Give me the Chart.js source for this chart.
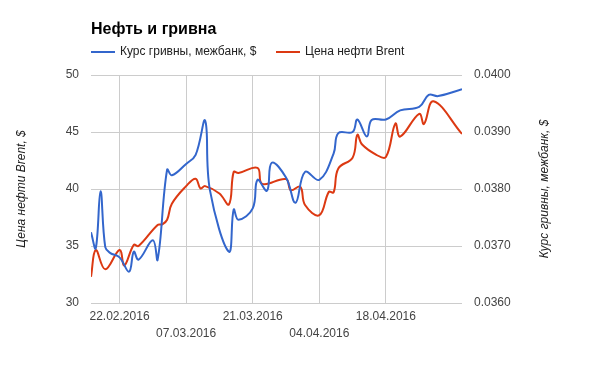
<!DOCTYPE html>
<html><head><meta charset="utf-8">
<script src="https://cdn.jsdelivr.net/npm/chart.js@4/dist/chart.umd.min.js"></script>
<style>html,body{margin:0;padding:0;background:#fff}canvas{display:block}</style>
</head><body>
<canvas id="c" width="596" height="366"></canvas>
<script>
const chartTitle = 'Нефть и гривна';
const seriesNames = ['Курс гривны, межбанк, $', 'Цена нефти Brent'];
const axisTitles = ['Цена нефти Brent, $', 'Курс гривны, межбанк, $'];
// day offsets counted from 16.02.2016
const xTickDays = [6, 20, 34, 48, 62];
const uahDays  = [0, 1, 2, 3, 4, 6, 8, 9, 10, 13, 14, 16, 17, 20, 22, 24, 25, 29, 30, 31, 34, 35, 37, 38, 41, 43, 45, 48, 51, 52, 55, 56, 58, 59, 62, 65, 69, 71, 73, 78];
const uahRates = [0.03724, 0.03696, 0.03796, 0.03698, 0.03688, 0.03680, 0.03655, 0.03690, 0.03676, 0.03710, 0.03676, 0.03834, 0.03824, 0.03844, 0.03860, 0.03920, 0.03798, 0.03690, 0.03764, 0.03746, 0.03766, 0.03816, 0.03797, 0.03846, 0.03820, 0.03776, 0.03830, 0.03816, 0.03862, 0.03898, 0.03900, 0.03922, 0.03892, 0.03921, 0.03922, 0.03938, 0.03944, 0.03965, 0.03963, 0.03975];
const oilDays   = [0, 1, 3, 6, 7, 9, 10, 14, 15, 16, 17, 20, 22, 23, 24, 27, 29, 30, 31, 35, 36, 41, 42, 44, 45, 48, 50, 51, 52, 55, 56, 57, 60, 62, 64, 65, 69, 70, 72, 78];
const oilPrices = [32.3, 34.65, 32.95, 34.65, 33.3, 35.1, 35.0, 36.85, 36.9, 37.3, 38.7, 40.25, 40.9, 40.05, 40.25, 39.6, 38.65, 41.5, 41.4, 41.85, 40.45, 40.87, 39.9, 40.2, 38.6, 37.7, 39.75, 39.7, 41.8, 42.75, 44.75, 43.9, 43.0, 42.8, 45.75, 44.6, 46.6, 45.7, 47.7, 44.83];
const leftTicks = [30, 35, 40, 45, 50];
const rightTicks = [0.036, 0.037, 0.038, 0.039, 0.040];

const BLUE = '#3366cc', RED = '#dc3912';
const FONT = 'Arial, "Liberation Sans", sans-serif';

function dayLabel(d) {
  const dt = new Date(2016, 1, 16 + d);
  const p = n => String(n).padStart(2, '0');
  return p(dt.getDate()) + '.' + p(dt.getMonth() + 1) + '.' + dt.getFullYear();
}

const decor = {
  id: 'decor',
  afterDraw(chart) {
    const ctx = chart.ctx;
    const ca = chart.chartArea;
    ctx.save();
    ctx.textBaseline = 'middle';
    ctx.textAlign = 'left';
    ctx.fillStyle = '#000';
    ctx.font = 'bold 16px ' + FONT;
    ctx.fillText(chartTitle, 91, 30);
    // legend
    ctx.font = '12px ' + FONT;
    const leg = [[91, BLUE, seriesNames[0]], [276, RED, seriesNames[1]]];
    leg.forEach(([x, col, txt]) => {
      ctx.strokeStyle = col; ctx.lineWidth = 2;
      ctx.beginPath(); ctx.moveTo(x, 52); ctx.lineTo(x + 24, 52); ctx.stroke();
      ctx.fillStyle = '#222';
      ctx.fillText(txt, x + 29, 52);
    });
    // axis titles
    ctx.font = 'italic 12px ' + FONT;
    ctx.fillStyle = '#222';
    ctx.textAlign = 'center';
    const cy = (ca.top + ca.bottom) / 2;
    [[22, axisTitles[0]], [545, axisTitles[1]]].forEach(([x, txt]) => {
      ctx.save();
      ctx.translate(x, cy);
      ctx.rotate(-Math.PI / 2);
      ctx.fillText(txt, 0, 0);
      ctx.restore();
    });
    ctx.restore();
  }
};

new Chart(document.getElementById('c'), {
  type: 'line',
  data: {
    datasets: [
      {
        label: seriesNames[0],
        data: uahDays.map((d, i) => ({x: d, y: uahRates[i]})),
        yAxisID: 'y2',
        borderColor: BLUE, borderWidth: 2, pointRadius: 0, tension: 0.4, fill: false
      },
      {
        label: seriesNames[1],
        data: oilDays.map((d, i) => ({x: d, y: oilPrices[i]})),
        yAxisID: 'y1',
        borderColor: RED, borderWidth: 2, pointRadius: 0, tension: 0.4, fill: false
      }
    ]
  },
  options: {
    responsive: false,
    animation: false,
    devicePixelRatio: 1,
    layout: {padding: {top: 75, left: 0, right: 0, bottom: 0}},
    plugins: {legend: {display: false}, title: {display: false}, tooltip: {enabled: false}},
    scales: {
      x: {
        type: 'linear', min: 0, max: 78,
        afterBuildTicks: s => { s.ticks = xTickDays.map(v => ({value: v})); },
        afterFit: s => { s.height = 63; },
        grid: {color: '#cccccc', drawTicks: false},
        border: {display: false},
        ticks: {
          color: '#444', font: {family: FONT, size: 12, lineHeight: 1.4}, padding: 5,
          maxRotation: 0, autoSkip: false,
          callback: (v, i) => i % 2 === 0 ? dayLabel(v) : ['', dayLabel(v)]
        }
      },
      y1: {
        type: 'linear', position: 'left', min: 30, max: 50,
        afterBuildTicks: s => { s.ticks = leftTicks.map(v => ({value: v})); },
        afterFit: s => { s.width = 91; },
        grid: {color: '#cccccc', drawTicks: false},
        border: {display: false},
        ticks: {color: '#444', font: {family: FONT, size: 12}, padding: 12}
      },
      y2: {
        type: 'linear', position: 'right', min: 0.036, max: 0.040,
        afterBuildTicks: s => { s.ticks = rightTicks.map(v => ({value: v})); },
        afterFit: s => { s.width = 134; },
        grid: {display: false, drawTicks: false},
        border: {display: false},
        ticks: {color: '#444', font: {family: FONT, size: 12}, padding: 12,
          callback: v => Number(v).toFixed(4)}
      }
    }
  },
  plugins: [decor]
});
</script>
</body></html>
